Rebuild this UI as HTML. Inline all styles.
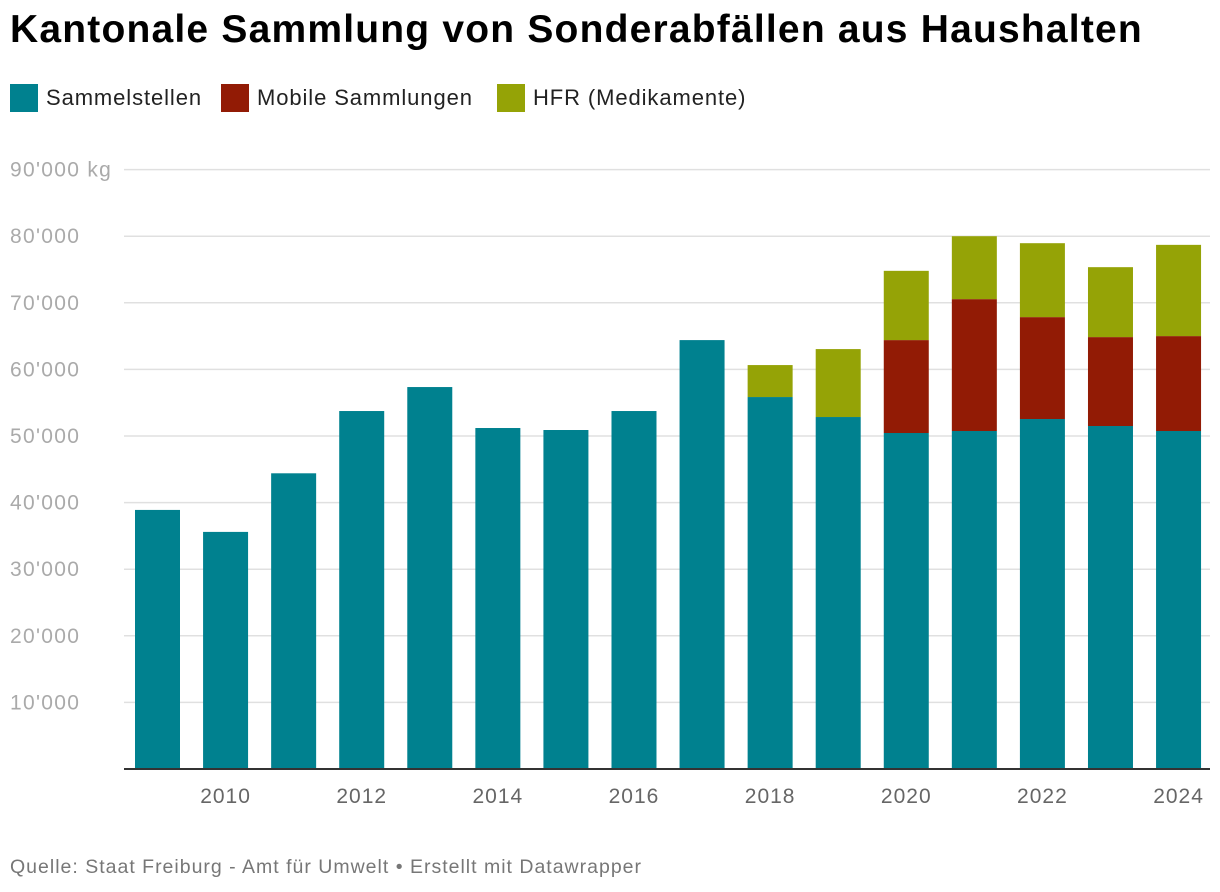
<!DOCTYPE html>
<html><head><meta charset="utf-8">
<style>
body{margin:0;background:#fff;font-family:"Liberation Sans",sans-serif;}
#wrap{position:relative;width:1220px;height:892px;overflow:hidden}
h1{position:absolute;left:10px;top:8px;margin:0;font-size:39px;font-weight:bold;color:#000;letter-spacing:1.2px}
.leg{position:absolute;top:84px;display:flex;align-items:center;font-size:22px;color:#222;letter-spacing:0.9px}
.sw{width:28px;height:28px;margin-right:8px}
#foot{position:absolute;left:10px;top:856px;font-size:19.5px;color:#777;letter-spacing:1.0px}
</style></head><body>
<div id="wrap">
<h1>Kantonale Sammlung von Sonderabfällen aus Haushalten</h1>
<div class="leg" style="left:10px"><div class="sw" style="background:#00818f"></div>Sammelstellen</div>
<div class="leg" style="left:221px"><div class="sw" style="background:#921b05"></div>Mobile Sammlungen</div>
<div class="leg" style="left:497px"><div class="sw" style="background:#95a306"></div>HFR (Medikamente)</div>
<svg id="svg" width="1220" height="892" style="position:absolute;left:0;top:0"></svg>
<div id="foot">Quelle: Staat Freiburg - Amt für Umwelt • Erstellt mit Datawrapper</div>
</div>
<script>
const years=[2009,2010,2011,2012,2013,2014,2015,2016,2017,2018,2019,2020,2021,2022,2023,2024];
const sammel=[38900,35600,44400,53750,57350,51200,50900,53750,64400,55850,52850,50450,50750,52550,51500,50750];
const mobile=[0,0,0,0,0,0,0,0,0,0,0,13950,19800,15300,13350,14250];
const hfr=[0,0,0,0,0,0,0,0,0,4800,10200,10400,9450,11100,10500,13700];
const yTicks=[10000,20000,30000,40000,50000,60000,70000,80000,90000];
const yLabels=["10'000","20'000","30'000","40'000","50'000","60'000","70'000","80'000","90'000 kg"];
const xLabelYears=[2010,2012,2014,2016,2018,2020,2022,2024];
const NS="http://www.w3.org/2000/svg",svg=document.getElementById('svg');
const y0=769,pxPer=66.6/10000;
const y=v=>y0-v*pxPer;
const x=yr=>157.5+(yr-2009)*68.07;
const bw=45;
function mk(t,a){const e=document.createElementNS(NS,t);for(const k in a)e.setAttribute(k,a[k]);svg.appendChild(e);return e;}
yTicks.forEach((v,i)=>{
 const l=mk('line',{x1:124,x2:1210,y1:y(v),y2:y(v),stroke:'#e0e0e0','stroke-width':1.5});
 
 
 const t=mk('text',{x:10,y:y(v)+7,fill:'#aaa','font-size':21,'letter-spacing':1.3,'font-family':'Liberation Sans, sans-serif'});
 t.textContent=yLabels[i];
 
 
});
years.forEach((yr,i)=>{
 const segs=[[sammel[i],'#00818f','bar-sammelstellen'],[mobile[i],'#921b05','bar-mobile'],[hfr[i],'#95a306','bar-hfr']];
 let base=0;
 segs.forEach(([v,c,n])=>{
  if(v<=0)return;
  const r=mk('rect',{x:x(yr)-bw/2,y:y(base+v),width:bw,height:v*pxPer,fill:c});
  
  
  base+=v;
 });
});
const ax=mk('line',{x1:124,x2:1210,y1:y0,y2:y0,stroke:'#333','stroke-width':2});


xLabelYears.forEach(yr=>{
 const t=mk('text',{x:x(yr),y:803,'text-anchor':'middle',fill:'#666','font-size':21,'letter-spacing':1,'font-family':'Liberation Sans, sans-serif'});
 t.textContent=yr;
 
 
});
</script>
</body></html>
